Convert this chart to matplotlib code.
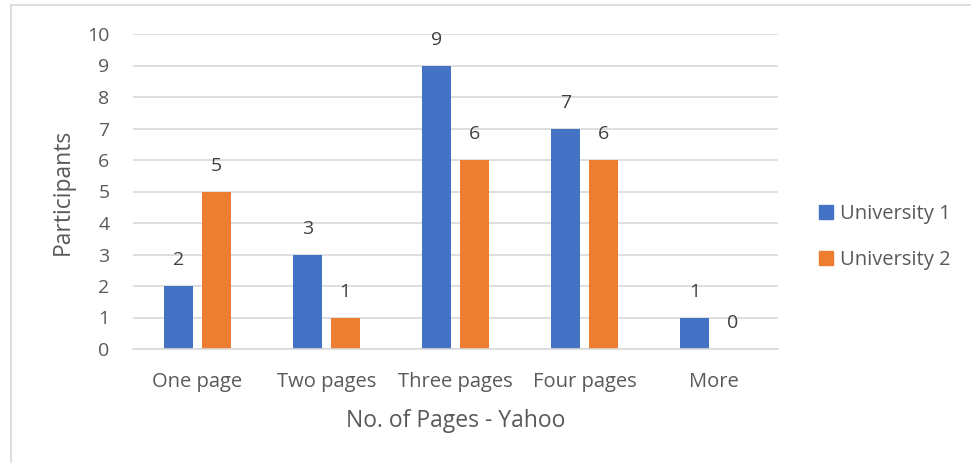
import matplotlib
matplotlib.use("Agg")
import matplotlib.pyplot as plt
import numpy as np
from matplotlib.patches import Rectangle
from matplotlib.lines import Line2D

categories = ["One page", "Two pages", "Three pages", "Four pages", "More"]
series_names = ["University 1", "University 2"]
uni1 = [2, 3, 9, 7, 1]
uni2 = [5, 1, 6, 6, 0]
colors = ["#4472C4", "#ED7D31"]
text_color = "#595959"

plt.rcParams['font.family'] = ['Open Sans', 'DejaVu Sans']

W, H = 971, 463
fig = plt.figure(figsize=(W/100, H/100), dpi=100)
ax = fig.add_axes([133/W, 1-349/H, (778-133)/W, (349-34)/H])

# light border around chart area
fig.add_artist(Line2D([11/W, 11/W], [0, 1-5/H], transform=fig.transFigure, color="#D9D9D9", lw=1.2))
fig.add_artist(Line2D([11/W, 1], [1-5/H, 1-5/H], transform=fig.transFigure, color="#D9D9D9", lw=1.2))

x = np.arange(len(categories))
w = 0.225
off = 0.145
b1 = ax.bar(x - off, uni1, w, color=colors[0], label=series_names[0], zorder=3)
b2 = ax.bar(x + off, uni2, w, color=colors[1], label=series_names[1], zorder=3)
for bars, vals in ((b1, uni1), (b2, uni2)):
    for rect, v in zip(bars, vals):
        ax.annotate(str(v), (rect.get_x() + rect.get_width()/2, v), xytext=(0, 12),
                    textcoords="offset points", ha="center", va="bottom",
                    fontsize=14, color="#404040")

ax.set_xlim(-0.5, len(categories) - 0.5)
ax.set_ylim(0, 10)
ax.set_yticks(range(0, 11))
ax.set_xticks(x)
ax.set_xticklabels(categories)
ax.tick_params(axis="both", length=0, labelsize=14, colors=text_color)
ax.tick_params(axis="x", labelsize=14.5)
ax.tick_params(axis="y", pad=17)
ax.tick_params(axis="x", pad=16.5)
ax.grid(axis="y", color="#D9D9D9", lw=1.2, zorder=0)
for s in ("top", "right", "left"):
    ax.spines[s].set_visible(False)
ax.spines["bottom"].set_color("#D9D9D9")
ax.spines["bottom"].set_linewidth(1.2)
ax.spines["bottom"].set_zorder(4)

ax.set_ylabel("Participants", fontsize=16.5, color=text_color, labelpad=9)
ax.set_xlabel("No. of Pages - Yahoo", fontsize=16.5, color=text_color, labelpad=12)

handles = [Rectangle((0, 0), 1, 1, color=c) for c in colors]
fig.legend(handles, series_names, loc="center left", bbox_to_anchor=(819/W, 1-237/H),
           frameon=False, fontsize=14.5, handlelength=0.69, handleheight=0.69,
           labelspacing=1.25, handletextpad=0.35, borderpad=0, borderaxespad=0,
           labelcolor=text_color)

fig.savefig("out.png", dpi=100, facecolor="white")
